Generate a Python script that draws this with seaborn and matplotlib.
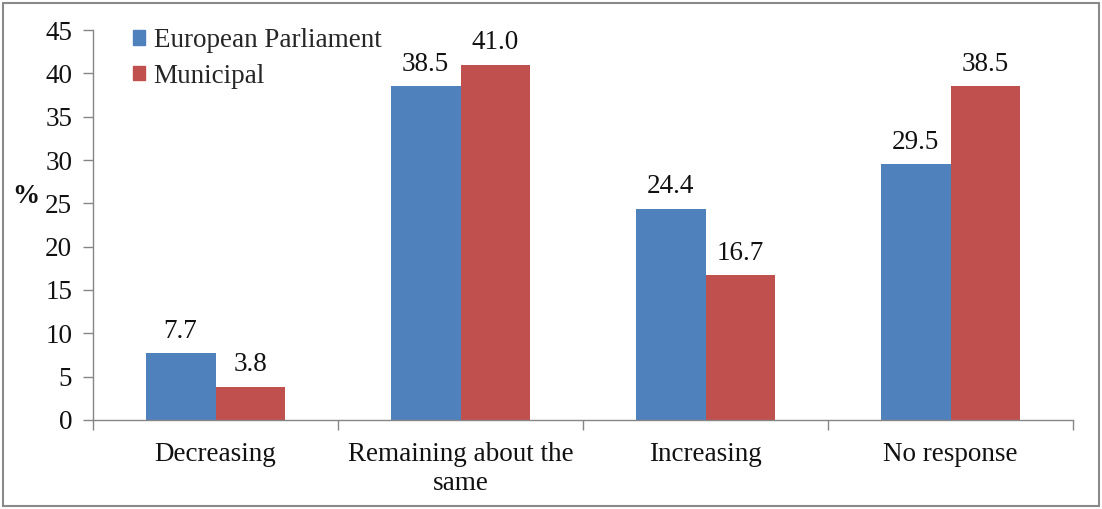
import matplotlib
matplotlib.use("Agg")
import matplotlib.pyplot as plt
import matplotlib.patches as mpatches
import seaborn as sns
import pandas as pd
from matplotlib.ticker import FixedLocator

categories = ["Decreasing", "Remaining about the\nsame", "Increasing", "No response"]
series_names = ["European Parliament", "Municipal"]
european_parliament = [7.7, 38.5, 24.4, 29.5]
municipal = [3.8, 41.0, 16.7, 38.5]
y_ticks = [0, 5, 10, 15, 20, 25, 30, 35, 40, 45]

colors = ["#4F81BD", "#C0504D"]
FS = 19.5

df = pd.DataFrame({
    "category": categories * 2,
    "series": [series_names[0]] * 4 + [series_names[1]] * 4,
    "value": european_parliament + municipal,
})

sns.set_theme(style="white")
plt.rcParams["font.family"] = ["Liberation Serif", "DejaVu Serif"]

fig = plt.figure(figsize=(11.02, 5.09), dpi=100)
ax = fig.add_axes([0.0844, 0.1749, 0.8893, 0.7661])

sns.barplot(data=df, x="category", y="value", hue="series", order=categories,
            hue_order=series_names, palette=colors, width=0.57, saturation=1,
            edgecolor="none", ax=ax, legend=False)

for container in ax.containers:
    ax.bar_label(container, labels=[f"{v:.1f}" for v in container.datavalues],
                 padding=7, fontsize=FS, color="#111111")

ax.set_xlim(-0.5, 3.5)
ax.set_ylim(0, 45)
ax.set_yticks(y_ticks)
ax.tick_params(axis="y", labelsize=FS, length=7, width=1, color="#868686",
               direction="out", left=True, pad=8, labelcolor="#111111")
ax.tick_params(axis="x", which="major", length=0, labelsize=FS, pad=16,
               labelcolor="#111111")
for lbl in ax.get_xticklabels():
    lbl.set_linespacing(1.2)
ax.xaxis.set_minor_locator(FixedLocator([-0.5, 0.5, 1.5, 2.5, 3.5]))
ax.tick_params(axis="x", which="minor", length=7, width=1, color="#868686",
               direction="out", bottom=True)
ax.set_xlabel("")
ax.set_ylabel("%", fontsize=FS, fontweight="bold", rotation=0,
              color="#111111")
ax.yaxis.set_label_coords(-0.069, 0.54)

for side in ["top", "right"]:
    ax.spines[side].set_visible(False)
for side in ["left", "bottom"]:
    ax.spines[side].set_color("#868686")
    ax.spines[side].set_linewidth(1)

handles = [mpatches.Patch(color=c, label=n) for c, n in zip(colors, series_names)]
ax.legend(handles=handles, loc="upper left", bbox_to_anchor=(0.03, 1.032),
          frameon=False, fontsize=FS, handlelength=0.45, handleheight=0.45,
          handletextpad=0.3, labelspacing=0.38, borderaxespad=0)

fig.patches.append(mpatches.Rectangle((0.003, 0.005), 0.994, 0.99,
                                      transform=fig.transFigure, fill=False,
                                      edgecolor="#8a8a8a", linewidth=1.5))

fig.savefig("out.png", dpi=100)
